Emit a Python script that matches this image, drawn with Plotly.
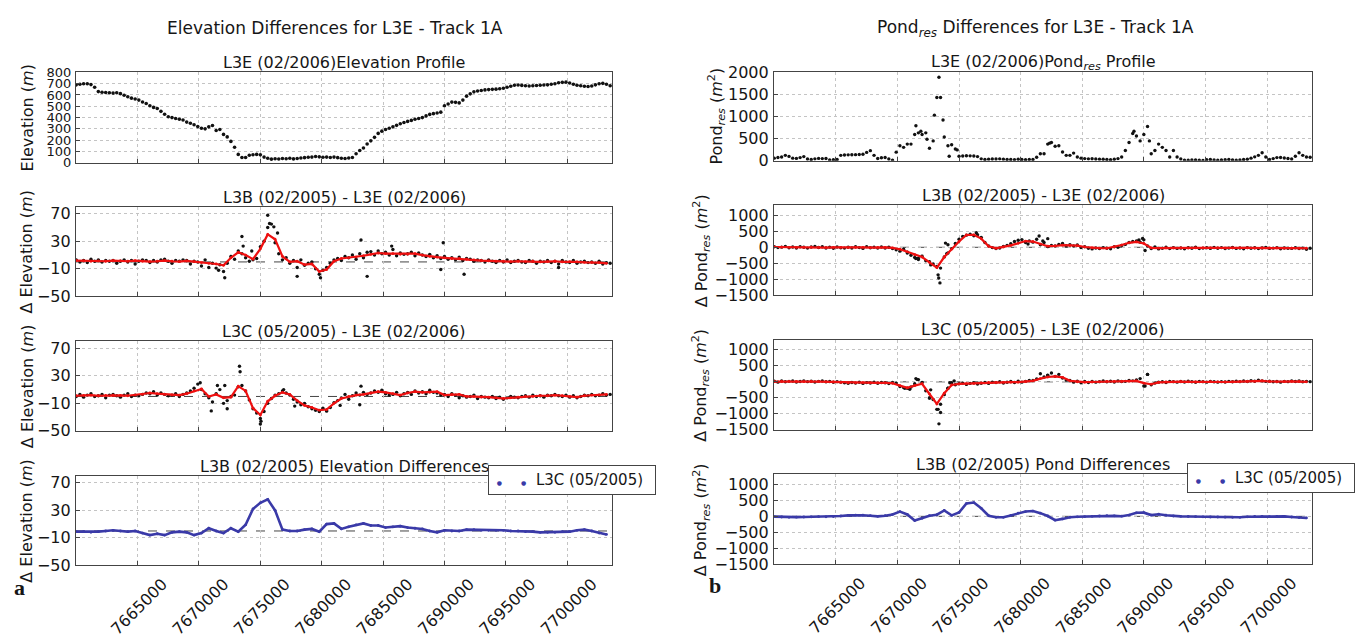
import plotly.graph_objects as go

FONT = "DejaVu Sans"
W, H = 1360, 639

# ---------------------------------------------------------------- data
# along-track sample positions, km north of the track origin
TRACK_ORIGIN = 7660000
track_km = [
    0.0, 0.3, 0.6, 0.9, 1.2, 1.5, 1.8, 2.1, 2.4, 2.7,
    3.0, 3.3, 3.6, 3.9, 4.2, 4.5, 4.8, 5.1, 5.4, 5.7,
    6.0, 6.3, 6.6, 6.9, 7.2, 7.5, 7.8, 8.1, 8.4, 8.7,
    9.0, 9.3, 9.6, 9.9, 10.2, 10.5, 10.8, 11.1, 11.4, 11.7,
    12.0, 12.3, 12.6, 12.9, 13.2, 13.5, 13.8, 14.1, 14.4, 14.7,
    15.0, 15.3, 15.6, 15.9, 16.2, 16.5, 16.8, 17.1, 17.4, 17.7,
    18.0, 18.3, 18.6, 18.9, 19.2, 19.5, 19.8, 20.1, 20.4, 20.7,
    21.0, 21.3, 21.6, 21.9, 22.2, 22.5, 22.8, 23.1, 23.4, 23.7,
    24.0, 24.3, 24.6, 24.9, 25.2, 25.5, 25.8, 26.1, 26.4, 26.7,
    27.0, 27.3, 27.6, 27.9, 28.2, 28.5, 28.8, 29.1, 29.4, 29.7,
    30.0, 30.3, 30.6, 30.9, 31.2, 31.5, 31.8, 32.1, 32.4, 32.7,
    33.0, 33.3, 33.6, 33.9, 34.2, 34.5, 34.8, 35.1, 35.4, 35.7,
    36.0, 36.3, 36.6, 36.9, 37.2, 37.5, 37.8, 38.1, 38.4, 38.7,
    39.0, 39.3, 39.6, 39.9, 40.2, 40.5, 40.8, 41.1, 41.4, 41.7,
    42.0, 42.3, 42.6, 42.9, 43.2, 43.5,
]
# smoothed curves are sampled on every second track position
smooth_km = track_km[::2]

# L3E (02/2006) elevation profile, m
elev_profile = [
    690, 695, 700, 700, 692, 668, 630, 625, 622, 620,
    617, 620, 612, 598, 585, 572, 565, 555, 538, 525,
    505, 490, 480, 455, 430, 408, 400, 392, 385, 378,
    360, 350, 337, 320, 305, 300, 318, 330, 286, 295,
    251, 229, 189, 137, 74, 46, 46, 66, 71, 74,
    70, 50, 40, 32, 35, 33, 38, 36, 40, 34,
    37, 42, 45, 48, 50, 55, 52, 48, 50, 46,
    50, 45, 40, 37, 42, 46, 80, 108, 131, 166,
    194, 225, 260, 280, 294, 305, 318, 331, 345, 356,
    366, 375, 385, 392, 400, 415, 428, 435, 440, 448,
    505, 520, 537, 535, 530, 555, 590, 610, 628, 635,
    640, 645, 648, 650, 652, 655, 660, 668, 678, 686,
    688, 685, 682, 680, 682, 684, 686, 688, 690, 695,
    700, 708, 712, 714, 706, 695, 686, 682, 678, 675,
    680, 690, 700, 703, 695, 682,
]

# L3B (02/2005) - L3E (02/2006) elevation differences, m
elev_diff_b = [
    3, 0, 2, -1, 4, 1, 3, 0, 2, 1,
    2, -2, 1, 3, 0, 2, -3, 1, 3, 2,
    -1, 2, 0, 3, 4, 1, -2, 2, 1, 3,
    2, -3, 1, 0, -6, 3, -8, -2, -9, -4,
    -14, -2, 8, 4, 16, 12, 6, 1, 3, 5,
    22, 30, 50, 55, 28, 12, 3, 6, -2, 2,
    -8, 3, -5, -2, 0, -10, -18, -12, -8, -2,
    3, 5, 2, 8, 6, 10, 4, 12, 6, 14,
    15, 10, 16, 12, 14, 10, 18, 9, 13, 11,
    12, 14, 9, 13, 10, 8, 11, 6, 9, 5,
    8, 4, 6, 3, 7, 2, 5, 4, 1, 3,
    2, 0, 3, 1, -1, 2, 0, 3, -1, 1,
    2, 0, -1, 2, 1, -2, 1, 0, 2, -1,
    1, -3, 2, 0, -1, 2, -2, 0, 1, -1,
    0, -2, 1, -3, -1, -2,
]
elev_diff_b_extra_km = [11.6, 12.1, 13.5, 13.6, 14.3, 15.6, 15.75, 16.1, 16.4,
                        18.0, 19.9, 23.2, 23.7, 25.7, 29.7, 29.9, 31.6, 39.3]
elev_diff_b_extra = [-12, -23, 37, 23, 16, 68, 56, 51, 42,
                     -21, -23, 32, -21, 23, -11, 28, -18, -8]
elev_smooth_b = [
    2, 1.5, 1, 1.5, 1, 2, 1.5, 1, 2, 1,
    0.5, 1, 2, 1, 0.5, 1.5, 0.5, -1, -2, -3,
    -5, 6, 14, 10, 4, 19, 40, 33, 8, 0,
    1, -4, -3, -14, -11, 1, 5, 6, 7, 9,
    11, 13, 12, 12, 11, 11, 12, 10, 8, 7,
    6, 5, 5, 4, 3, 2, 1.5, 1, 1, 0.5,
    1, 0.5, 1, 0, 0.5, 1, 0, 0.5, 0, -0.5,
    -0.5, -1, -2,
]

# L3C (05/2005) - L3E (02/2006) elevation differences, m
elev_diff_c = [
    0, 3, -1, 2, 4, 0, 1, 3, -2, 2,
    3, 1, -1, 2, 4, 0, 2, 1, 3, 5,
    4, 7, 2, 5, 3, 1, 2, 4, 0, 3,
    5, 8, 12, 18, 10, 4, -2, -8, 4, 10,
    -10, -6, 0, 2, 14, 16, 8, -5, -18, -24,
    -32, -22, -10, -3, 2, 4, 8, 5, 2, -4,
    -8, -12, -10, -15, -18, -20, -22, -17, -21, -16,
    -9, -6, -2, 3, -4, 1, 5, 2, 6, 3,
    5, 8, 6, 9, 4, 2, 3, 6, 1, 4,
    6, 3, 8, 5, 7, 4, 9, 6, 5, 2,
    3, 0, 4, 2, -2, 1, -1, 0, 2, -3,
    0, -1, -2, 0, -3, -1, -4, -2, 0, -1,
    -2, 0, 1, -1, 2, 0, 1, -1, 2, 1,
    3, 1, 0, 2, -1, 1, -2, 0, 2, 1,
    3, 1, 2, 4, 2, 3,
]
elev_diff_c_extra_km = [10.1, 11.0, 11.5, 12.1, 12.3, 13.3, 13.35, 15.0,
                        15.05, 16.9, 17.8, 20.4, 21.5, 23.1, 23.2]
elev_diff_c_extra = [20, -21, 16, 16, -18, 44, 36, -40,
                     -36, 10, -14, -21, -13, -12, 15]
elev_smooth_c = [
    1, 1.5, 2, 1, 1.5, 2, 1.5, 1, 2, 3,
    5, 4, 3, 2, 2, 4, 8, 11, 0, 3,
    -2, -1, 15, 8, -17, -27, -7, 1, 6, 3,
    -6, -13, -16, -20, -19, -10, -3, 0, 2, 3,
    5, 7, 6, 4, 2, 5, 7, 6, 6, 7,
    2, 3, 3, 0, 0, -1, -1, -2, -3, -2,
    -1, 0, 0, 1, 1, 2, 1, 0, -1, 1,
    2, 2, 3,
]

# L3B (02/2005) elevation differences against L3C (05/2005), m
elev_bc = [
    -1, -1, -2, -1, 0, 1, 0, -1, 0, -3,
    -6, -4, -6, -2, -1, -2, -6, -3, 4, 0,
    -3, 4, -1, 9, 32, 41, 46, 30, 2, 0,
    0, 2, 3, -1, 10, 11, 3, 6, 9, 11,
    8, 8, 5, 6, 7, 5, 4, 3, 0, -2,
    1, 0, 0, 2, 2, 1, 1, 1, 1, 0,
    0, -1, -1, -2, -2, -2, -1, -1, 1, 2,
    0, -3, -5,
]

# L3E (02/2006) Pond_res profile, m^2
pond_profile = [
    60, 75, 87, 124, 100, 60, 55, 73, 95, 40,
    30, 45, 55, 50, 51, 20, 25, 29, 124, 130,
    135, 138, 140, 142, 150, 190, 230, 124, 51, 70,
    75, 40, 15, 196, 340, 305, 378, 378, 596, 633,
    596, 633, 284, 451, 1433, 1433, 538, 342, 364, 269,
    102, 110, 115, 112, 108, 95, 45, 30, 38, 42,
    40, 45, 38, 32, 30, 28, 35, 30, 25, 32,
    30, 80, 160, 160, 378, 414, 330, 342, 200, 124,
    124, 175, 87, 60, 50, 45, 48, 42, 38, 35,
    30, 25, 35, 50, 87, 233, 414, 618, 560, 451,
    596, 778, 160, 233, 378, 305, 233, 87, 233, 87,
    40, 15, 12, 18, 22, 15, 10, 25, 30, 18,
    12, 20, 25, 30, 22, 15, 18, 30, 35, 60,
    90, 124, 182, 87, 29, 50, 73, 75, 65, 51,
    40, 102, 182, 124, 87, 80,
]
pond_profile_extra_km = [11.5, 11.9, 12.4, 13.0, 13.37, 13.7, 14.2, 14.85,
                         22.35, 29.2, 30.45]
pond_profile_extra = [793, 669, 487, 1033, 1891, 924, 102, 247, 400, 669, 451]

# L3B (02/2005) - L3E (02/2006) Pond_res differences, m^2
pond_diff_b = [
    20, -10, 5, 30, -15, 10, -20, 15, 0, -25,
    10, 25, -5, 15, -20, 5, -30, 10, -15, -25,
    0, -20, 15, -10, -35, 20, -15, 5, -25, 10,
    -20, 0, -40, -80, -120, -60, -180, -250, -320, -380,
    -280, -420, -450, -520, -600, -650, -300, -180, -40, 120,
    250, 340, 380, 410, 360, 390, 310, 150, 40, -10,
    -40, -20, 30, 60, 110, 180, 220, 240, 150, 200,
    160, 250, 80, 150, 20, 60, 40, 90, 120, 50,
    80, 40, 70, -10, 20, -30, -50, -20, -40, -10,
    -30, -45, 20, 0, 60, 90, 150, 180, 200, 160,
    232, 40, -40, 10, -50, -30, 0, -40, -10, -35,
    -20, -45, -10, -30, 0, -40, -25, -15, -35, -5,
    -30, -10, -40, -25, -5, -35, -20, -45, -10, -30,
    -15, -40, -20, -5, -35, -25, -10, -45, -20, -30,
    -35, -15, -40, -25, -60, -30,
]
pond_diff_b_extra_km = [10.8, 11.5, 11.7, 12.7, 13.3, 13.35, 13.45, 13.9, 14.0,
                        14.1, 16.4, 20.6, 21.5, 21.8, 22.2, 29.6, 29.9, 30.1]
pond_diff_b_extra = [-150, -350, -340, -550, -860, -960, -1111, 131, -200,
                     80, 455, 100, 354, 200, 270, 232, 273, -100]
pond_smooth_b = [
    10, 5, 0, -5, 0, 5, 0, -10, -5, 0,
    -10, -5, 0, -10, -5, 0, -20, -60, -140, -232,
    -303, -470, -636, -303, -60, 180, 384, 390, 270, 30,
    -30, 10, 60, 125, 195, 180, 100, 35, 40, 70,
    60, 50, 10, -15, -25, -30, 10, 70, 140, 170,
    120, -20, -25, -20, -15, -20, -25, -20, -20, -15,
    -20, -25, -20, -15, -20, -25, -20, -15, -20, -25,
    -25, -30, -30,
]

# L3C (05/2005) - L3E (02/2006) Pond_res differences, m^2
pond_diff_c = [
    20, -10, 30, 0, 15, 25, -5, 10, 30, 5,
    20, -5, 15, 25, 0, 10, -15, 5, -10, -30,
    -45, -20, -40, -15, -50, -25, -35, -10, -45, -20,
    -30, -55, -20, -40, -150, -180, -200, -160, -60, 70,
    -20, -280, -505, -550, -860, -700, -400, -200, -30, -90,
    -60, -40, -80, -50, -30, -70, -45, -20, -50, -10,
    -25, 0, -35, -15, 10, -20, 20, -10, 15, 40,
    40, 90, 253, 150, 200, 273, 170, 232, 120, 60,
    40, -10, 20, -30, 10, -20, 15, -10, 5, 25,
    0, 20, -5, 30, 10, 15, 40, 30, 60, 101,
    -131, 232, -90, -40, -10, 0, -20, 15, 5, -10,
    10, -5, 20, 0, -15, 10, 5, -10, 15, 0,
    -10, 5, -5, 15, 0, 20, 5, 25, 10, 35,
    20, 50, 30, 15, 20, 0, 10, -10, 15, 5,
    30, 10, 25, 0, 15, 5,
]
pond_diff_c_extra_km = [10.6, 11.0, 11.5, 11.6, 12.6, 12.7, 13.3, 13.37,
                        13.5, 14.1, 14.25, 14.6, 22.2, 30.1, 30.3]
pond_diff_c_extra = [-200, -230, 101, 70, -505, -250, -860, -1313,
                     -960, -202, -30, 30, 210, -131, 232]
pond_smooth_c = [
    5, 10, 15, 10, 5, 10, 5, 0, -5, -20,
    -30, -30, -25, -30, -35, -30, -45, -120, -190, -120,
    -60, -380, -690, -354, -100, -65, -55, -50, -35, -20,
    -20, -15, -10, -10, 5, 30, 100, 150, 172, 140,
    30, 0, -10, -5, 0, 10, 10, 10, 20, 30,
    -40, -75, -20, -5, 0, 5, 0, -5, 0, 5,
    0, -5, 0, 5, 10, 15, 30, 10, 0, 5,
    15, 10, 0,
]

# L3B (02/2005) Pond_res differences against L3C (05/2005), m^2
pond_bc = [
    -10, -20, -30, -25, -20, -15, -10, -15, -5, 10,
    30, 40, 35, 20, 0, 20, 60, 150, 60, -130,
    -60, 20, 50, 185, 30, 120, 400, 430, 250, 20,
    -30, -30, 30, 100, 150, 165, 100, 10, -120, -80,
    -30, -15, -10, 0, 10, 20, 15, 5, 40, 110,
    115, 40, 65, 35, 10, 0, -5, -10, -15, -20,
    -20, -25, -30, -30, -15, 0, -5, -10, -5, 0,
    -20, -40, -50,
]

# axis ticks
x_ticks = [7665000, 7670000, 7675000, 7680000, 7685000, 7690000, 7695000, 7700000]
x_range = [7659980, 7703650]
elev_profile_ticks = [0, 100, 200, 300, 400, 500, 600, 700, 800]
elev_diff_ticks = [-50, -10, 30, 70]
pond_profile_ticks = [0, 500, 1000, 1500, 2000]
pond_diff_ticks = [-1500, -1000, -500, 0, 500, 1000]


def northing(km_values):
    return [TRACK_ORIGIN + round(k * 1000) for k in km_values]


# ---------------------------------------------------------------- layout geometry (px)
COL_PX = {"L": (76, 612), "R": (774, 1312)}
ROW_PX = {
    "L": [(66, 160), (206, 299), (346, 439), (486, 579)],
    "R": [(66, 158), (204, 298), (344, 438), (484, 578)],
}
YTITLE_X = {"L": (28, 27), "R": (717, 701)}

DOT = "#111111"
RED = "#ee1010"
BLUE = "#3a3aa8"
GRID = "#c4c4c4"
FRAME = "#444444"
TXT = "#161616"

M = "<i>m</i>"
RES = "Pond<sub><i>res</i></sub>"

panels = [
    # (col, row, ytitle, yrange, yticks, tick font size, subplot title)
    ("L", 0, f"Elevation ({M})", [0, 800], elev_profile_ticks, 13,
     "L3E (02/2006)Elevation Profile"),
    ("L", 1, f"Δ Elevation ({M})", [-50, 80], elev_diff_ticks, 16,
     "L3B (02/2005) - L3E (02/2006)"),
    ("L", 2, f"Δ Elevation ({M})", [-50, 80], elev_diff_ticks, 16,
     "L3C (05/2005) - L3E (02/2006)"),
    ("L", 3, f"Δ Elevation ({M})", [-50, 80], elev_diff_ticks, 16,
     "L3B (02/2005) Elevation Differences"),
    ("R", 0, f"{RES} ({M}<sup>2</sup>)", [0, 2000], pond_profile_ticks, 16,
     f"L3E (02/2006){RES} Profile"),
    ("R", 1, f"Δ {RES} ({M}<sup>2</sup>)", [-1500, 1320], pond_diff_ticks, 16,
     "L3B (02/2005) - L3E (02/2006)"),
    ("R", 2, f"Δ {RES} ({M}<sup>2</sup>)", [-1500, 1320], pond_diff_ticks, 16,
     "L3C (05/2005) - L3E (02/2006)"),
    ("R", 3, f"Δ {RES} ({M}<sup>2</sup>)", [-1500, 1320], pond_diff_ticks, 16,
     "L3B (02/2005) Pond Differences"),
]

fig = go.Figure()


def ax_ids(i):
    return ("x", "y") if i == 1 else (f"x{i}", f"y{i}")


def add_dots(i, km, values, size=3.4):
    xa, ya = ax_ids(i)
    fig.add_trace(go.Scatter(
        x=northing(km), y=values, xaxis=xa, yaxis=ya, mode="markers",
        marker=dict(color=DOT, size=size, line=dict(width=0)),
        showlegend=False, hoverinfo="skip"))


def add_curve(i, km, values, color, width):
    xa, ya = ax_ids(i)
    fig.add_trace(go.Scatter(
        x=northing(km), y=values, xaxis=xa, yaxis=ya, mode="lines+markers",
        line=dict(color=color, width=width),
        marker=dict(color=color, size=2.8),
        showlegend=False, hoverinfo="skip"))


# elevation column
add_dots(1, track_km, elev_profile, size=3.6)
add_dots(2, track_km + elev_diff_b_extra_km, elev_diff_b + elev_diff_b_extra)
add_curve(2, smooth_km, elev_smooth_b, RED, 2.2)
add_dots(3, track_km + elev_diff_c_extra_km, elev_diff_c + elev_diff_c_extra)
add_curve(3, smooth_km, elev_smooth_c, RED, 2.2)
add_curve(4, smooth_km, elev_bc, BLUE, 2.6)

# pond column
add_dots(5, track_km + pond_profile_extra_km, pond_profile + pond_profile_extra)
add_dots(6, track_km + pond_diff_b_extra_km, pond_diff_b + pond_diff_b_extra)
add_curve(6, smooth_km, pond_smooth_b, RED, 2.2)
add_dots(7, track_km + pond_diff_c_extra_km, pond_diff_c + pond_diff_c_extra)
add_curve(7, smooth_km, pond_smooth_c, RED, 2.2)
add_curve(8, smooth_km, pond_bc, BLUE, 2.6)

layout = dict(
    width=W, height=H, margin=dict(l=0, r=0, t=0, b=0),
    paper_bgcolor="white", plot_bgcolor="white",
    font=dict(family=FONT, size=16, color=TXT),
    showlegend=False,
)
annotations = []
shapes = []

for i, (col, row, ytitle, yrange, yticks, ytick_size, title) in enumerate(panels, start=1):
    x0, x1 = COL_PX[col]
    top, bottom = ROW_PX[col][row]
    xa, ya = ax_ids(i)
    bottom_row = row == 3
    layout["xaxis" if i == 1 else f"xaxis{i}"] = dict(
        domain=[x0 / W, x1 / W], anchor=ya, range=x_range,
        tickvals=x_ticks, ticktext=[str(v) for v in x_ticks],
        showticklabels=bottom_row, tickangle=-45, ticklabelshift=25,
        ticklabelstandoff=2,
        tickfont=dict(size=16, color=TXT),
        ticks="inside", ticklen=4, tickcolor=FRAME,
        showgrid=True, gridcolor=GRID, griddash="dot", gridwidth=1,
        showline=True, linecolor=FRAME, linewidth=1.2, mirror=True,
        zeroline=False,
    )
    layout["yaxis" if i == 1 else f"yaxis{i}"] = dict(
        domain=[1 - bottom / H, 1 - top / H], anchor=xa, range=yrange,
        tickvals=yticks, tickfont=dict(size=ytick_size, color=TXT),
        ticks="inside", ticklen=4, tickcolor=FRAME, ticklabelstandoff=1,
        showgrid=True, gridcolor=GRID, griddash="dot", gridwidth=1,
        showline=True, linecolor=FRAME, linewidth=1.2, mirror=True,
        zeroline=False,
    )
    # subplot title
    annotations.append(dict(
        text=title, xref="paper", yref="paper",
        x=(x0 + x1) / 2 / W, y=1 - (top - 10) / H,
        xanchor="center", yanchor="middle", showarrow=False,
        font=dict(size=16, family=FONT, color=TXT)))
    # y-axis title
    tx = YTITLE_X[col][0 if row == 0 else 1]
    annotations.append(dict(
        text=ytitle, xref="paper", yref="paper",
        x=tx / W, y=1 - (top + bottom) / 2 / H, textangle=-90,
        xanchor="center", yanchor="middle", showarrow=False,
        font=dict(size=16, family=FONT, color=TXT)))
    # dashed zero reference
    if row > 0:
        shapes.append(dict(
            type="line", xref=f"{xa} domain", yref=ya, x0=0, x1=1, y0=0, y1=0,
            line=dict(color="#444", width=1, dash="dash"), layer="below"))

# column headings
annotations.append(dict(
    text="Elevation Differences for L3E - Track 1A", xref="paper", yref="paper",
    x=335 / W, y=1 - 20 / H, xanchor="center", yanchor="middle", showarrow=False,
    font=dict(size=17, family=FONT, color=TXT)))
annotations.append(dict(
    text=f"{RES} Differences for L3E - Track 1A", xref="paper", yref="paper",
    x=1035 / W, y=1 - 20 / H, xanchor="center", yanchor="middle", showarrow=False,
    font=dict(size=17, family=FONT, color=TXT)))

# legend boxes for the bottom panels
NB = "\u00a0"
dot_html = f'<span style="color:{BLUE};font-size:6px">●</span>'
legend_text = f"{NB}{dot_html}{NB*4}{dot_html}{NB*2}L3C (05/2005)"
for left_px, top_px in [(488, 475), (1187, 473)]:
    annotations.append(dict(
        text=legend_text, xref="paper", yref="paper",
        x=left_px / W, y=1 - top_px / H, xanchor="left", yanchor="top",
        showarrow=False, align="left", width=160, height=22,
        bgcolor="white", bordercolor=FRAME, borderwidth=1, borderpad=3,
        font=dict(size=15, family=FONT, color=TXT)))

# panel letters
for letter, lx, ly in [("a", 19, 602), ("b", 715, 600)]:
    annotations.append(dict(
        text=f"<b>{letter}</b>", xref="paper", yref="paper",
        x=lx / W, y=1 - ly / H, xanchor="center", yanchor="middle",
        showarrow=False, font=dict(size=22, family="Liberation Serif", color=TXT)))

layout["annotations"] = annotations
layout["shapes"] = shapes
fig.update_layout(**layout)

fig.write_html("out.html")
